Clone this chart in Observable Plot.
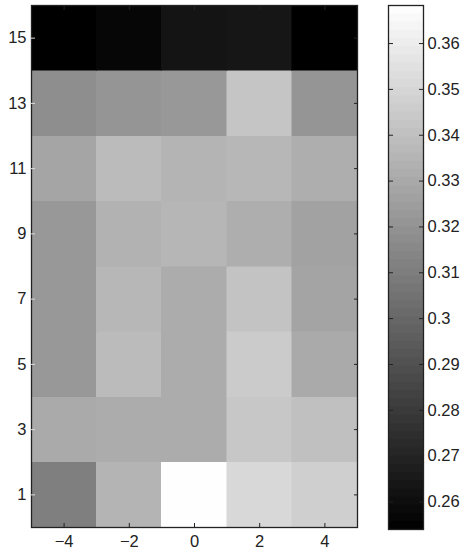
<!DOCTYPE html>
<html>
<head>
<meta charset="utf-8">
<script src="https://cdn.jsdelivr.net/npm/d3@7"></script>
<script src="https://cdn.jsdelivr.net/npm/@observablehq/plot@0.6"></script>
<style>
  html, body { margin: 0; padding: 0; background: #fff; }
  #wrap { position: relative; width: 462px; height: 554px; }
  #main { position: absolute; left: 0; top: 0; }
  #cbar { position: absolute; left: 362px; top: 0; }
  svg { font-family: "Liberation Sans", Arial, sans-serif; }
</style>
</head>
<body>
<div id="wrap"><div id="main"></div><div id="cbar"></div></div>
<script>
// x categories (columns) and y categories (rows)
const xValues = [-4, -2, 0, 2, 4];
const yValues = [1, 3, 5, 7, 9, 11, 13, 15];
// cell values, one array per row (y), ordered by xValues
const row1  = [0.311, 0.3345, 0.368, 0.3506, 0.347];
const row3  = [0.330, 0.331, 0.331, 0.3434, 0.340];
const row5  = [0.322, 0.338, 0.331, 0.345, 0.330];
const row7  = [0.322, 0.336, 0.331, 0.3416, 0.3273];
const row9  = [0.322, 0.3336, 0.3354, 0.332, 0.3264];
const row11 = [0.328, 0.338, 0.3345, 0.336, 0.332];
const row13 = [0.3175, 0.321, 0.322, 0.3425, 0.321];
const row15 = [0.254, 0.2565, 0.263, 0.264, 0.254];
const colorDomain = [0.254, 0.3683];
const colorTicks = [0.26, 0.27, 0.28, 0.29, 0.3, 0.31, 0.32, 0.33, 0.34, 0.35, 0.36];

const rows = [row1, row3, row5, row7, row9, row11, row13, row15];
const cells = [];
rows.forEach((r, i) => r.forEach((v, j) => cells.push({x: xValues[j], y: yValues[i], v})));

const colorOpts = {type: "linear", domain: colorDomain, range: ["black", "white"], interpolate: "rgb", clamp: true};
const font = "16.5px";
const blank = () => "";

const main = Plot.plot({
  width: 362, height: 554,
  marginLeft: 31, marginRight: 5, marginTop: 5, marginBottom: 27,
  style: {fontSize: font, color: "#222", background: "white"},
  x: {domain: [-5, 5], ticks: xValues, label: null},
  y: {domain: [0, 16], ticks: yValues, label: null},
  color: colorOpts,
  marks: [
    Plot.rect(cells, {x1: d => d.x - 1, x2: d => d.x + 1, y1: d => d.y - 1, y2: d => d.y + 1, fill: "v", stroke: "v", strokeWidth: 0.5, shapeRendering: "crispEdges"}),
    Plot.frame({stroke: "#222", strokeWidth: 1.3}),
    Plot.axisX({ticks: xValues, anchor: "bottom", tickSize: 4, dy: -4, tickFormat: blank, stroke: "#222"}),
    Plot.axisX({ticks: xValues, anchor: "bottom", tickSize: 0, tickPadding: 8, tickFormat: d => d < 0 ? "\u2212" + (-d) : String(d), fill: "#222"}),
    Plot.axisX({ticks: xValues, anchor: "top", tickSize: 4, dy: 4, tickFormat: blank, stroke: "#222"}),
    Plot.axisY({ticks: yValues, anchor: "left", tickSize: 4, dx: 4, tickFormat: blank, stroke: "#ddd"}),
    Plot.axisY({ticks: yValues, anchor: "left", tickSize: 0, tickPadding: 5, fill: "#222"}),
    Plot.axisY({ticks: yValues, anchor: "right", tickSize: 4, dx: -4, tickFormat: blank, stroke: "#222"})
  ]
});
document.getElementById("main").appendChild(main);

// colorbar: 64 bands spanning the colour domain
const nBands = 64;
const step = (colorDomain[1] - colorDomain[0]) / nBands;
const bands = d3.range(nBands).map(i => ({y1: colorDomain[0] + i * step, y2: colorDomain[0] + (i + 1) * step, v: colorDomain[0] + (i + 0.5) * step}));

const cbar = Plot.plot({
  width: 100, height: 554,
  marginLeft: 26, marginRight: 39, marginTop: 5, marginBottom: 25,
  style: {fontSize: font, color: "#222", background: "transparent", overflow: "visible"},
  y: {domain: colorDomain, label: null},
  color: colorOpts,
  marks: [
    Plot.rect(bands, {y1: "y1", y2: "y2", fill: "v", stroke: "v", strokeWidth: 0.5, shapeRendering: "crispEdges"}),
    Plot.frame({stroke: "#222", strokeWidth: 1.3}),
    Plot.axisY({ticks: colorTicks, anchor: "left", tickSize: 5, dx: 5, tickFormat: blank, stroke: "#222"}),
    Plot.axisY({ticks: colorTicks, anchor: "right", tickSize: 5, dx: -5, tickFormat: blank, stroke: "#222"}),
    Plot.axisY({ticks: colorTicks, anchor: "right", tickSize: 0, tickPadding: 4, tickFormat: d => String(d), fill: "#222"})
  ]
});
document.getElementById("cbar").appendChild(cbar);
</script>
</body>
</html>
